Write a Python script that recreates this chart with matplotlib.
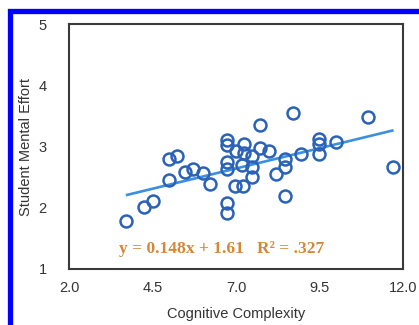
import matplotlib
matplotlib.use("Agg")
import matplotlib.pyplot as plt
from matplotlib.patches import Rectangle

# values
complexity = [3.72, 4.24, 4.50, 4.99, 4.99, 5.24, 5.47, 5.72, 6.00, 6.22,
              6.74, 6.74, 6.74, 6.74, 6.74, 6.74,
              6.99, 6.97, 7.24, 7.24, 7.21, 7.17,
              7.47, 7.47, 7.47, 7.72, 7.72, 7.98, 8.21,
              8.47, 8.47, 8.47, 8.72, 8.96,
              9.48, 9.48, 9.48, 9.98, 10.96, 11.71]
effort = [1.79, 2.01, 2.11, 2.46, 2.80, 2.85, 2.58, 2.63, 2.57, 2.38,
          3.10, 3.02, 2.75, 2.63, 2.07, 1.91,
          2.93, 2.35, 3.04, 2.89, 2.35, 2.70,
          2.84, 2.67, 2.51, 3.35, 2.97, 2.93, 2.55,
          2.80, 2.67, 2.20, 3.54, 2.88,
          3.12, 3.04, 2.87, 3.08, 3.48, 2.66]

trend_x = [3.74, 11.68]
trend_y = [2.21, 3.26]

x_ticks = [2.0, 4.5, 7.0, 9.5, 12.0]
y_ticks = [1, 2, 3, 4, 5]
equation = "y = 0.148x + 1.61   R\u00b2 = .327"

plt.rcParams['font.family'] = ['Liberation Sans', 'DejaVu Sans']

fig = plt.figure(figsize=(4.19, 3.25), dpi=100)
ax = fig.add_axes([69 / 419, 1 - 269 / 325, 334 / 419, 245 / 325])

ax.plot(trend_x, trend_y, color="#3d8fe0", lw=1.9, zorder=2)
ax.plot(complexity, effort, "o", ms=8.6, mfc="none", mec="#2a62b8", mew=1.8, zorder=3)

ax.set_xlim(2, 12)
ax.set_ylim(1, 5)
ax.set_xticks(x_ticks)
ax.set_xticklabels(["%.1f" % t for t in x_ticks])
ax.set_yticks(y_ticks)
ax.tick_params(axis="both", length=0, labelsize=10.5, colors="#333333")
ax.tick_params(axis="x", pad=9)
ax.tick_params(axis="y", pad=16)
for sp in ax.spines.values():
    sp.set_color("#3a3a3a")
    sp.set_linewidth(1.5)

ax.set_xlabel("Cognitive Complexity", fontsize=10.5, color="#333333", labelpad=8)
ax.set_ylabel("Student Mental Effort", fontsize=10.5, color="#333333")
ax.yaxis.set_label_coords(-36 / 334, 0.5)

ax.text(3.5, 1.32, equation, ha="left", va="center", fontsize=12.6,
        fontweight="bold", family=["Liberation Serif", "DejaVu Serif"], color="#d6873a")

# blue frame around the figure
fig.patches.append(Rectangle((9.8 / 419, -0.1), 1.2, 1 - 10.8 / 325 + 0.1,
                             transform=fig.transFigure, fill=False,
                             ec="#0000ff", lw=3.8, clip_on=False))

fig.savefig("out.png", dpi=100)
